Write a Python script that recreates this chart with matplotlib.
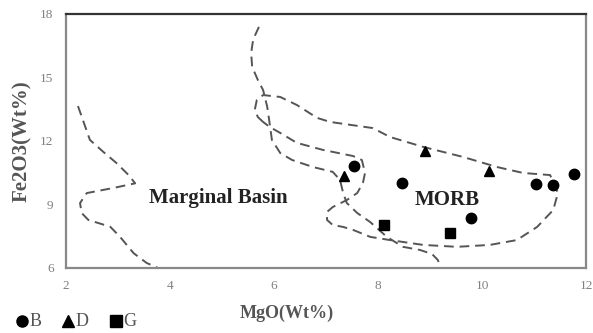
import matplotlib
matplotlib.use("Agg")
import matplotlib.pyplot as plt

plt.rcParams['font.family'] = ['Liberation Serif', 'DejaVu Serif']

# sample points
b_mgo = [7.54, 8.47, 11.04, 11.37, 11.77, 9.78]
b_fe = [10.82, 10.03, 9.97, 9.91, 10.44, 8.36]
d_mgo = [7.35, 8.90, 10.14]
d_fe = [10.35, 11.54, 10.6]
g_mgo = [8.12, 9.38]
g_fe = [8.03, 7.64]

# field boundaries (dashed)
mb_left_x = [2.23, 2.46, 2.72, 2.97, 3.2, 3.33, 2.91, 2.4, 2.27, 2.3, 2.43, 2.85, 3.04, 3.3, 3.55, 3.77]
mb_left_y = [13.65, 12.05, 11.48, 10.96, 10.4, 10.0, 9.78, 9.54, 9.07, 8.6, 8.27, 7.95, 7.47, 6.7, 6.24, 6.0]

mb_right_x = [5.71, 5.6, 5.56, 5.58, 5.69, 5.79, 5.87, 5.92, 5.96, 6.12, 6.35, 6.75, 7.13, 7.27,
              7.33, 7.40, 7.60, 7.85, 8.17, 8.48, 8.81, 9.04, 9.15, 9.21]
mb_right_y = [17.39, 16.8, 16.16, 15.50, 14.88, 14.41, 13.61, 12.76, 12.05, 11.43, 11.10, 10.77, 10.54, 10.16,
              9.54, 9.07, 8.60, 8.17, 7.47, 7.00, 6.85, 6.66, 6.38, 6.0]

morb_x = [5.79, 5.69, 5.63, 5.67, 5.79, 6.12, 6.44, 6.83, 7.08, 7.90, 8.23, 8.87, 9.63, 10.29, 10.79,
          11.31, 11.46, 11.37, 11.06, 10.67, 10.15, 9.52, 8.87, 8.23, 7.85, 7.52, 7.33, 7.13, 7.02,
          7.02, 7.13, 7.40, 7.60, 7.71, 7.75, 7.69, 7.52, 6.94, 6.44, 6.12, 5.92, 5.79]
morb_y = [12.90, 13.13, 13.47, 13.94, 14.17, 14.08, 13.70, 13.09, 12.90, 12.61, 12.19, 11.72, 11.25, 10.77,
          10.49, 10.39, 9.54, 8.74, 7.94, 7.32, 7.09, 7.0, 7.09, 7.32, 7.47, 7.80, 7.94, 8.03, 8.27,
          8.65, 8.88, 9.21, 9.54, 10.02, 10.49, 11.10, 11.29, 11.58, 11.91, 12.38, 12.66, 12.90]

fig = plt.figure(figsize=(5.93, 3.33), dpi=100)
ax = fig.add_axes([0.1113, 0.1952, 0.8769, 0.7628])

dash = dict(color='#555555', lw=1.4, linestyle=(0, (5, 3)))
ax.plot(mb_left_x, mb_left_y, **dash)
ax.plot(mb_right_x, mb_right_y, **dash)
ax.plot(morb_x, morb_y, **dash)

ax.plot(b_mgo, b_fe, 'o', color='black', ms=7.5, ls='none')
ax.plot(d_mgo, d_fe, '^', color='black', ms=7.5, ls='none')
ax.plot(g_mgo, g_fe, 's', color='black', ms=7, ls='none')

ax.text(4.92, 9.31, 'Marginal Basin', fontsize=15, fontweight='bold', color='#222222',
        ha='center', va='center')
ax.text(9.33, 9.21, 'MORB', fontsize=15, fontweight='bold', color='#222222',
        ha='center', va='center')

ax.set_xlim(2, 12)
ax.set_ylim(6, 18)
ax.set_xticks([2, 4, 6, 8, 10, 12])
ax.set_yticks([6, 9, 12, 15, 18])
ax.tick_params(length=0, labelsize=9.5, labelcolor='#808080', pad=9)
for s in ax.spines.values():
    s.set_color('#888888')
    s.set_linewidth(1.6)
ax.spines['top'].set_color('#333333')

fig.text(0.484, 0.06, 'MgO(Wt%)', fontsize=13, fontweight='bold', color='#555555',
         ha='center', va='center')
fig.text(0.038, 0.577, 'Fe2O3(Wt%)', fontsize=15, fontweight='bold', color='#555555',
         ha='center', va='center', rotation=90)

# legend row
leg = [('o', 'B', 0.037), ('^', 'D', 0.115), ('s', 'G', 0.196)]
for m, lab, x in leg:
    fig.lines.append(plt.Line2D([x], [0.036], marker=m, color='black', ms=8, ls='none',
                                transform=fig.transFigure))
    fig.text(x + 0.012, 0.036, lab, fontsize=13, color='#555555', va='center', ha='left')

fig.savefig('out.png', dpi=100)
